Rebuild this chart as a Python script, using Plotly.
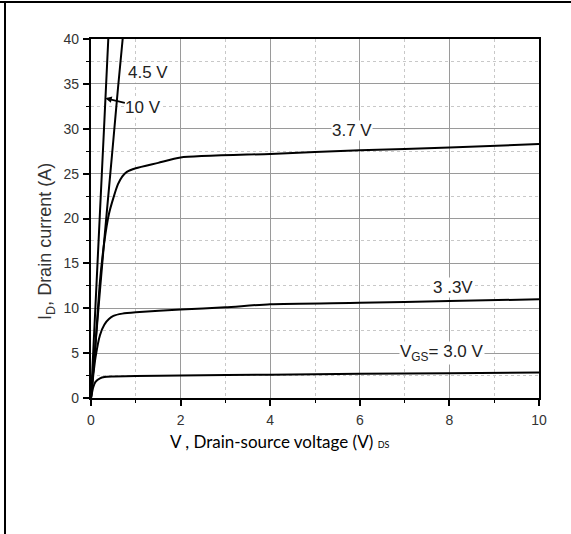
import plotly.graph_objects as go

# ---- data ----
vds_10 = [0, 0.1, 0.2, 0.3, 0.386]
id_10 = [0, 10.3, 20.7, 31.0, 40]

vds_45 = [0, 0.1, 0.2, 0.3, 0.4, 0.5, 0.6, 0.707]
id_45 = [0, 6.0, 12.0, 17.8, 23.3, 28.8, 34.4, 40]

vds_37 = [0, 0.1, 0.2, 0.3, 0.4, 0.5, 0.6, 0.7, 0.8, 1.0, 1.5, 2.0, 4.0, 6.0, 8.0, 10.0]
id_37 = [0, 6.0, 13.0, 17.5, 20.5, 22.3, 23.8, 24.7, 25.2, 25.6, 26.2, 26.8, 27.2, 27.6, 27.9, 28.3]

vds_33 = [0, 0.05, 0.1, 0.2, 0.3, 0.4, 0.5, 0.7, 1.0, 2.0, 3.0, 4.0, 6.0, 8.0, 10.0]
id_33 = [0, 2.5, 4.5, 7.0, 8.2, 8.8, 9.15, 9.4, 9.55, 9.85, 10.1, 10.45, 10.6, 10.8, 11.0]

vds_30 = [0, 0.05, 0.1, 0.2, 0.3, 0.5, 1.0, 2.0, 4.0, 6.0, 8.0, 10.0]
id_30 = [0, 1.2, 1.8, 2.2, 2.35, 2.4, 2.45, 2.5, 2.6, 2.7, 2.75, 2.85]

x_ticks = [0, 2, 4, 6, 8, 10]
y_ticks = [0, 5, 10, 15, 20, 25, 30, 35, 40]

curves = [(vds_10, id_10), (vds_45, id_45), (vds_37, id_37), (vds_33, id_33), (vds_30, id_30)]

fig = go.Figure()
for xs, ys in curves:
    fig.add_trace(go.Scatter(x=xs, y=ys, mode="lines",
                             line=dict(color="black", width=2, shape="spline", smoothing=0.6),
                             showlegend=False, hoverinfo="skip"))

W, H = 571, 534
L, R, T, B = 91, 32, 39, 136
pw, ph = W - L - R, H - T - B

def px(xp):
    return (xp - L) / pw

def py(yp):
    return (H - B - yp) / ph

axis_common = dict(
    showline=True, linecolor="black", linewidth=2.2, mirror=True,
    ticks="outside", ticklen=6, tickwidth=1.5, tickcolor="black",
    showgrid=True, gridcolor="#9a9a9a", gridwidth=1.4,
    zeroline=False,
    tickfont=dict(family="Arial, Liberation Sans", size=14, color="#333"),
    minor=dict(ticks="outside", ticklen=3, tickwidth=1.2, tickcolor="black",
               showgrid=True, gridcolor="#c8c8c8", gridwidth=1, griddash="dot"),
)

fig.update_xaxes(range=[0, 10], tickvals=x_ticks, minor_dtick=1, ticklabelstandoff=2, **axis_common)
fig.update_yaxes(range=[0, 40], tickvals=y_ticks, minor_dtick=2.5, ticklabelstandoff=1, **axis_common)

ann_font = dict(family="Arial, Liberation Sans", size=17, color="#222")
annotations = [
    dict(x=1.27, y=36.3, text="4.5 V", showarrow=False, font=ann_font, bgcolor="white", borderpad=0),
    dict(x=0.32, y=33.4, text="10 V", showarrow=True, ax=38, ay=9, axref="pixel", ayref="pixel",
         arrowhead=2, arrowsize=0.8, arrowwidth=1.6, arrowcolor="black", font=ann_font,
         bgcolor="white", borderpad=0),
    dict(x=5.83, y=29.75, text="3.7 V", showarrow=False, font=ann_font, bgcolor="white", borderpad=0),
    dict(x=8.09, y=12.26, text="3 .3V", showarrow=False, font=ann_font, bgcolor="white", borderpad=0),
    dict(x=7.83, y=5.0, text="V<sub>GS</sub>= 3.0 V", showarrow=False, font=ann_font,
         bgcolor="white", borderpad=0),
    # axis titles
    dict(xref="paper", yref="paper", x=px(46), y=py(242), xanchor="center", yanchor="middle",
         text="I<sub>D</sub>, Drain current (A)", textangle=-90, showarrow=False,
         font=dict(family="Arial, Liberation Sans", size=18, color="#333")),
    dict(xref="paper", yref="paper", x=px(280), y=py(441), xanchor="center", yanchor="middle",
         text="V , Drain-source voltage (V) <span style='font-size:9px'>DS</span>",
         showarrow=False, font=dict(family="Lato", size=17, color="black")),
]
fig.update_layout(annotations=annotations)

# frame lines of the picture (top and left edge)
fig.add_shape(type="line", xref="paper", yref="paper", x0=px(0), x1=px(W), y0=py(2), y1=py(2),
              line=dict(color="black", width=2))
fig.add_shape(type="line", xref="paper", yref="paper", x0=px(5), x1=px(5), y0=py(2), y1=py(H),
              line=dict(color="black", width=2))

fig.update_layout(
    width=W, height=H,
    margin=dict(l=L, r=R, t=T, b=B),
    paper_bgcolor="white", plot_bgcolor="white",
    showlegend=False,
)

fig.write_html("out.html", config={"displayModeBar": False},
               post_script="document.body.style.margin='0';")
